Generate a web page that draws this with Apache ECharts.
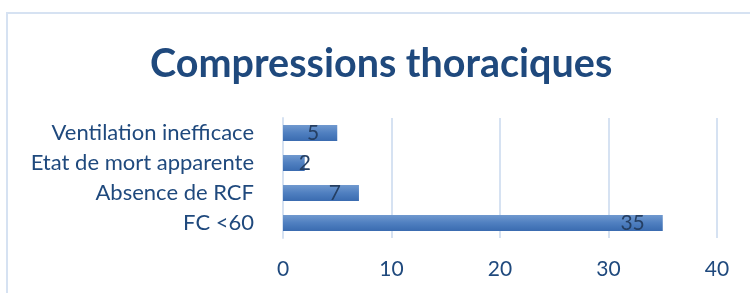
<!DOCTYPE html>
<html lang="fr">
<head>
  <meta charset="UTF-8">
  <title>Compressions thoraciques</title>
  <script src="https://cdn.jsdelivr.net/npm/echarts@6/dist/echarts.min.js"></script>
  <style>
    html, body { margin: 0; padding: 0; background: #fff; }
    #chart { width: 750px; height: 293px; }
  </style>
</head>
<body>
  <div id="chart"></div>
  <script>
    // données (de bas en haut)
    var categories = ['FC <60', 'Absence de RCF', 'Etat de mort apparente', 'Ventilation inefficace']
    var values = [35, 7, 2, 5]
    var xTicks = [0, 10, 20, 30, 40]

    var textColor = '#1F497D'
    var gridColor = '#D6E2F2'

    var chart = echarts.init(document.getElementById('chart'))
    chart.setOption({
      animation: false,
      textStyle: { fontFamily: 'Lato' },
      graphic: [{
        type: 'rect',
        shape: { x: 7, y: 13, width: 800, height: 400 },
        style: { fill: 'none', stroke: gridColor, lineWidth: 2 }
      }],
      title: {
        text: 'Compressions thoraciques',
        left: 150,
        top: 44,
        padding: 0,
        textStyle: { fontFamily: 'Lato', fontWeight: 'bold', fontSize: 39.5, color: textColor }
      },
      grid: { left: 283, right: 33, top: 118, height: 120 },
      xAxis: {
        type: 'value',
        min: xTicks[0],
        max: xTicks[xTicks.length - 1],
        interval: 10,
        axisLine: { show: false },
        axisTick: { show: false },
        axisLabel: { margin: 21, fontSize: 21, color: textColor, fontFamily: 'Lato' },
        splitLine: { lineStyle: { color: gridColor, width: 2 } }
      },
      yAxis: {
        type: 'category',
        data: categories,
        axisLine: { lineStyle: { color: gridColor, width: 2 } },
        axisTick: { show: false },
        axisLabel: { margin: 29, fontSize: 22, color: textColor, fontFamily: 'Lato' }
      },
      series: [{
        type: 'bar',
        barWidth: 16,
        data: values.map(function (v) {
          var item = { value: v }
          if (v < 3) item.label = { position: 'right', distance: -6 }
          return item
        }),
        itemStyle: {
          color: new echarts.graphic.LinearGradient(0, 0, 0, 1, [
            { offset: 0, color: '#7099CF' },
            { offset: 0.5, color: '#4F7FC0' },
            { offset: 1, color: '#3A6BB0' }
          ])
        },
        label: {
          show: true,
          position: 'insideRight',
          distance: 18,
          fontSize: 21,
          fontFamily: 'Lato',
          color: '#253F63'
        }
      }]
    })
  </script>
</body>
</html>
